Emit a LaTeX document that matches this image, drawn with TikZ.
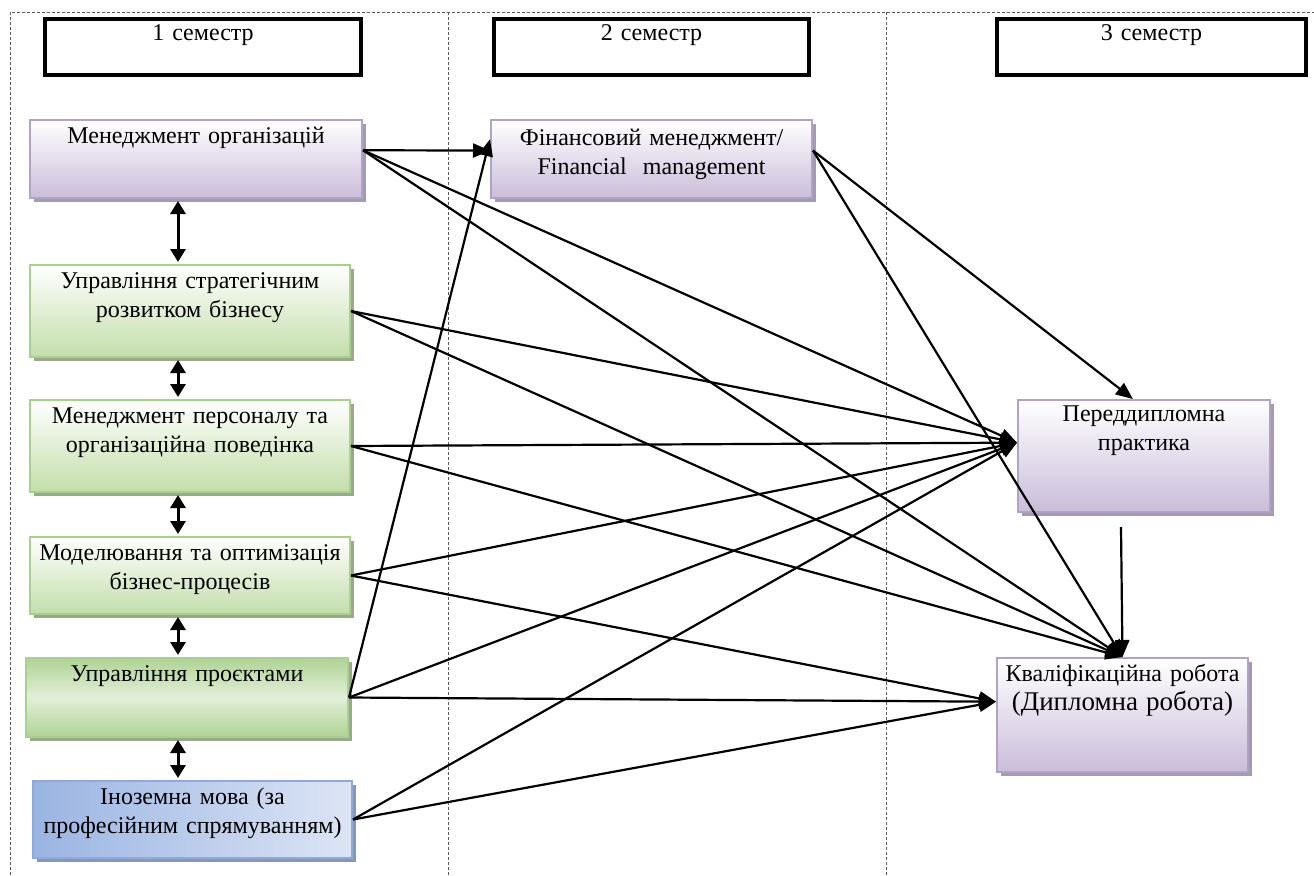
\documentclass[tikz,border=0pt]{standalone}
\usepackage{fontspec}
\setmainfont{Liberation Serif}
\usepackage{tikz}
\usetikzlibrary{arrows.meta}
\usetikzlibrary{shadows}

\definecolor{lilacline}{HTML}{B3A2C7}
\definecolor{lilacfill}{HTML}{CABDDA}
\definecolor{lilacshadow}{HTML}{A39BAE}
\definecolor{greenline}{HTML}{A9D18E}
\definecolor{greenfill}{HTML}{C3DEAA}
\definecolor{greendark}{HTML}{AFD394}
\definecolor{greenlight}{HTML}{E3EFD9}
\definecolor{greenshadow}{HTML}{9AA98C}
\definecolor{blueline}{HTML}{8EA9DB}
\definecolor{bluefill}{HTML}{9AB4E2}
\definecolor{bluelight}{HTML}{DCE5F4}
\definecolor{blueshadow}{HTML}{8B97AE}
\definecolor{framegray}{HTML}{595959}

\tikzset{
  box/.style={shape=rectangle, draw, line width=1pt, inner sep=1pt, align=center,
    text height=10.5pt, font=\fontsize{12}{14.5}\selectfont},
  lilac/.style={box, draw=lilacline, top color=white, bottom color=lilacfill,
    drop shadow={shadow xshift=2pt, shadow yshift=-2pt, fill=lilacshadow, opacity=1}},
  greenbox/.style={box, draw=greenline, top color=white, bottom color=greenfill,
    drop shadow={shadow xshift=2pt, shadow yshift=-2pt, fill=greenshadow, opacity=1}},
  bluebox/.style={box, draw=blueline, left color=bluefill, right color=bluelight,
    drop shadow={shadow xshift=2pt, shadow yshift=-2pt, fill=blueshadow, opacity=1}},
  sem/.style={box, draw=black, line width=2pt, fill=white, text height=9.5pt, text depth=16.5pt},
  arr/.style={-{Triangle[length=8.5pt,width=7pt]}, line width=1.1pt},
  dbl/.style={{Triangle[length=6.5pt,width=7.5pt]}-{Triangle[length=6.5pt,width=7.5pt]},
    line width=1.5pt, shorten <=1pt, shorten >=1pt},
  frame/.style={draw=framegray, line width=0.5pt, dash pattern=on 1.5pt off 1pt}
}

\begin{document}
\begin{tikzpicture}[x=0.5pt,y=-0.5pt]

  \useasboundingbox (0,0) rectangle (1314,875);

  \draw[frame] (10,875) -- (10,12) -- (1314,12);
  \draw[frame] (448,12) -- (448,875);
  \draw[frame] (886,12) -- (886,875);

  \path node (s1) at (203,47) [sem,text width=156pt] {1 семестр};
  \path node (s2) at (651.5,47) [sem,text width=155.5pt] {2 семестр};
  \path node (s3) at (1151.5,47) [sem,text width=152.5pt] {3 семестр};

  \path node (morg) at (196,159) [lilac,text width=164pt,text depth=26.5pt]
        {Менеджмент організацій};
  \path node (usr) at (190,311) [greenbox,text width=158pt,text depth=33.5pt]
        {Управління стратегічним\\розвитком бізнесу};
  \path node (mper) at (190,446) [greenbox,text width=158pt,text depth=33.5pt]
        {Менеджмент персоналу та\\організаційна поведінка};
  \path node (mod) at (190,575.5) [greenbox,text width=158pt,text depth=26pt]
        {Моделювання та оптимізація\\бізнес-процесів};
  \path node (upr) at (187,697.5)
        [greenbox,top color=greendark,bottom color=greendark,middle color=greenlight,
         text width=159pt,text depth=27pt]
        {Управління проєктами};
  \path node (inoz) at (192.5,819.5) [bluebox,text width=157.5pt,text depth=26pt]
        {Іноземна мова (за\\професійним спрямуванням)};

  \path node (fm) at (651.5,159) [lilac,text width=158.5pt,text height=11.5pt,text depth=25.5pt]
        {Фінансовий менеджмент/\\Financial\ \ management};

  \path node (pd) at (1144,456) [lilac,text width=124pt,text height=9.5pt,text depth=44.5pt]
        {Переддипломна\\практика};
  \path node (kr) at (1122.5,715) [lilac,text width=123.5pt,text depth=44.5pt]
        {Кваліфікаційна робота\\{\fontsize{13.5}{15.5}\selectfont (Дипломна робота)}};

  \draw[dbl] ([xshift=-9pt]morg.south) -- ([xshift=-6pt]usr.north);
  \draw[dbl] ([xshift=-6pt]usr.south) -- ([xshift=-6pt]mper.north);
  \draw[dbl] ([xshift=-6pt]mper.south) -- ([xshift=-6pt]mod.north);
  \draw[dbl] ([xshift=-6pt]mod.south) -- ([xshift=-4.5pt]upr.north);
  \draw[dbl] ([xshift=-4.5pt]upr.south) -- ([xshift=-7.25pt]inoz.north);

  \draw[arr] (morg.3) -- (fm.177);
  \draw[arr] (morg.3) -- (pd.174);
  \draw[arr] (morg.3) -- (kr.north);

  \draw[arr] (usr.east) -- (pd.174);
  \draw[arr] (usr.east) -- (kr.north);

  \draw[arr] (mper.east) -- (pd.174);
  \draw[arr] (mper.east) -- (kr.north);

  \draw[arr] (mod.east) -- (pd.174);
  \draw[arr] (mod.east) -- (kr.174);

  \draw[arr] (upr.east) -- (fm.173);
  \draw[arr] (upr.east) -- (pd.174);
  \draw[arr] (upr.east) -- (kr.174);

  \draw[arr] (inoz.east) -- (pd.174);
  \draw[arr] (inoz.east) -- (kr.174);

  \draw[arr] (fm.3) -- (pd.101);
  \draw[arr] (fm.3) -- (kr.north);

  \coordinate (pdout) at (1121,527);
  \draw[arr] (pdout) -- (kr.north);

\end{tikzpicture}
\end{document}
